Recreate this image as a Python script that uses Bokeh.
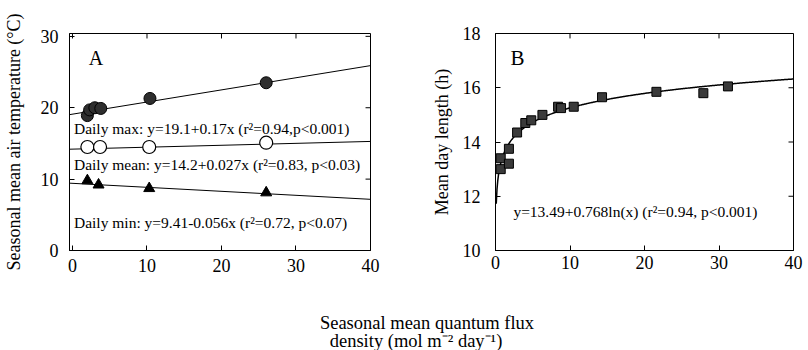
import numpy as np
from bokeh.plotting import figure
from bokeh.layouts import column, row
from bokeh.models import FixedTicker
from bokeh.embed import file_html
from bokeh.resources import INLINE
from bokeh.core.properties import value

# ---------------- Panel A data ----------------
a_x_ticks = [0, 10, 20, 30, 40]
a_y_ticks = [0, 10, 20, 30]
max_flux = [2.0, 2.3, 3.0, 3.8, 10.4, 26.0]
max_temp = [18.9, 19.7, 20.0, 19.9, 21.3, 23.5]
mean_flux = [2.0, 3.7, 10.3, 26.0]
mean_temp = [14.5, 14.5, 14.5, 15.1]
min_flux = [2.0, 3.5, 10.3, 26.0]
min_temp = [9.8, 9.2, 8.7, 8.1]
fit_max = (19.1, 0.17)
fit_mean = (14.2, 0.027)
fit_min = (9.41, -0.056)
a_labels = ["Daily max: y=19.1+0.17x (r²=0.94,p<0.001)",
            "Daily mean: y=14.2+0.027x (r²=0.83, p<0.03)",
            "Daily min: y=9.41-0.056x (r²=0.72, p<0.07)"]

# ---------------- Panel B data ----------------
b_x_ticks = [0, 10, 20, 30, 40]
b_y_ticks = [10, 12, 14, 16, 18]
day_flux = [0.7, 0.7, 1.8, 1.8, 2.9, 4.0, 4.8, 6.3, 8.4, 8.8, 10.5, 14.3, 21.6, 27.9, 31.2]
day_len = [13.4, 13.0, 13.2, 13.75, 14.35, 14.7, 14.8, 15.0, 15.3, 15.25, 15.3, 15.65, 15.85, 15.8, 16.05]
fit_log = (13.49, 0.768)
b_label = "y=13.49+0.768ln(x) (r²=0.94, p<0.001)"

x_title = ["Seasonal mean quantum flux", "density (mol m⁻² day⁻¹)"]

SERIF = "Liberation Serif"
TICK_FS = "18px"
TICK_LEN = 5  # px


def style(p, xt, yt, xr, yr, fw, fh, ylabel, xstand, ystand, lstand):
    p.grid.visible = False
    p.outline_line_color = "black"
    p.outline_line_width = 1
    p.xaxis.ticker = FixedTicker(ticks=xt)
    p.yaxis.ticker = FixedTicker(ticks=yt)
    for ax in p.xaxis + p.yaxis:
        ax.major_tick_in = TICK_LEN
        ax.major_tick_out = 0
        ax.minor_tick_line_color = None
        ax.axis_line_color = "black"
        ax.major_tick_line_color = "black"
        ax.major_label_text_font = SERIF
        ax.major_label_text_font_size = TICK_FS
        ax.major_label_text_color = "black"
    p.xaxis.major_label_standoff = xstand
    p.yaxis.major_label_standoff = ystand
    p.yaxis.axis_label = ylabel
    p.yaxis.axis_label_text_font = SERIF
    p.yaxis.axis_label_text_font_size = "18px"
    p.yaxis.axis_label_text_font_style = "normal"
    p.yaxis.axis_label_text_color = "black"
    p.yaxis.axis_label_standoff = lstand
    # inner ticks on the top and right frame edges
    dy = TICK_LEN * (yr[1] - yr[0]) / fh
    dx = TICK_LEN * (xr[1] - xr[0]) / fw
    p.segment(x0=xt, y0=[yr[1]] * len(xt), x1=xt, y1=[yr[1] - dy] * len(xt),
              line_color="black", line_width=1)
    p.segment(x0=[xr[1]] * len(yt), y0=yt, x1=[xr[1] - dx] * len(yt), y1=yt,
              line_color="black", line_width=1)


# ---------------- Panel A ----------------
a_xr = (-0.4, 40)
a_yr = (0, 30.4)
A_FW, A_FH = 303, 218
pA = figure(width=428, height=280, x_range=a_xr, y_range=a_yr,
            output_backend="svg", toolbar_location=None,
            min_border_left=67, min_border_right=58, min_border_top=32, min_border_bottom=30)
style(pA, a_x_ticks, a_y_ticks, a_xr, a_yr, A_FW, A_FH,
      "Seasonal mean air temperature (°C)", 8, 11, 14)

xl = np.array([a_xr[0], a_xr[1]])
for b0, b1 in (fit_max, fit_mean, fit_min):
    pA.line(xl, b0 + b1 * xl, line_color="black", line_width=1)

pA.scatter(max_flux, max_temp, marker="circle", size=12, fill_color="#2e2e2e", line_color="black")
pA.scatter(mean_flux, mean_temp, marker="circle", size=13, fill_color="white", line_color="black", line_width=1.2)
pA.scatter(min_flux, min_temp, marker="triangle", size=11, fill_color="black", line_color="black")

pA.text(x=[0.2, 0.2, 0.2], y=[17.15, 12.1, 3.9], text=a_labels,
        text_font=value(SERIF), text_font_size="15.5px", text_baseline="middle",
        text_align="left", text_color="black")
pA.text(x=[2.2], y=[26.9], text=["A"], text_font=value(SERIF), text_font_size="20px",
        text_baseline="middle", text_align="left", text_color="black")

# ---------------- Panel B ----------------
b_xr = (0, 40)
b_yr = (10, 18)
B_FW, B_FH = 298, 220
pB = figure(width=380, height=280, x_range=b_xr, y_range=b_yr,
            output_backend="svg", toolbar_location=None,
            min_border_left=67, min_border_right=15, min_border_top=33, min_border_bottom=27)
style(pB, b_x_ticks, b_y_ticks, b_xr, b_yr, B_FW, B_FH, "Mean day length (h)", 5, 15, 8)

xc = np.linspace(0.1, b_xr[1], 400)
pB.line(xc, fit_log[0] + fit_log[1] * np.log(xc), line_color="black", line_width=1.5)
pB.scatter(day_flux, day_len, marker="square", size=9, fill_color="#3a3a3a", line_color="black")
pB.text(x=[2.4], y=[11.45], text=[b_label], text_font=value(SERIF), text_font_size="15.5px",
        text_baseline="middle", text_align="left", text_color="black")
pB.text(x=[2.0], y=[17.1], text=["B"], text_font=value(SERIF), text_font_size="21px",
        text_baseline="middle", text_align="left", text_color="black")

# ---------------- shared x title ----------------
pX = figure(width=808, height=70, x_range=(0, 808), y_range=(0, 70),
            output_backend="svg", toolbar_location=None, min_border=0,
            x_axis_type=None, y_axis_type=None)
pX.grid.visible = False
pX.outline_line_color = None
pX.text(x=[426.5, 415.5], y=[28, 10], text=x_title, text_font=value(SERIF),
        text_font_size="18.5px", text_baseline="middle", text_align="center", text_color="black")

layout = column(row(pA, pB), pX)
open("out.html", "w").write(file_html(layout, INLINE))
